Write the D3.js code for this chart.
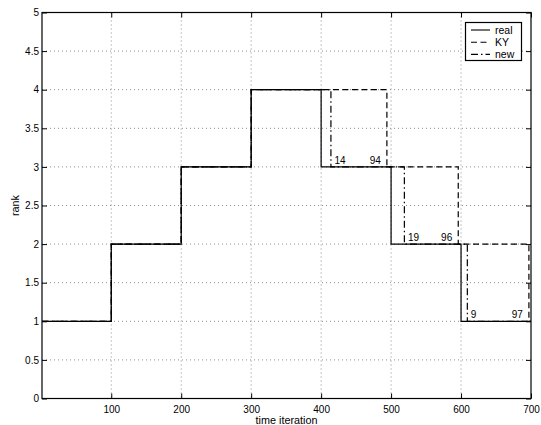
<!DOCTYPE html>
<html lang="en">
  <head>
    <meta charset="UTF-8" />
    <title>rank vs time iteration</title>
    <script src="https://d3js.org/d3.v7.min.js"></script>
    <style>
      body { margin: 0; background: #fff; }
      text { font-family: "Liberation Sans", Arial, sans-serif; fill: #000; }
    </style>
  </head>

  <body>
    <svg width="541" height="425"></svg>

    <script>
      // step change times and rank after each change
      const realTimes = [1, 100, 200, 300, 400, 500, 600, 700];
      const realRanks = [1, 2, 3, 4, 3, 2, 1, 1];
      const kyTimes = [1, 100, 200, 300, 494, 596, 697, 700];
      const kyRanks = [1, 2, 3, 4, 3, 2, 1, 1];
      const newTimes = [1, 100, 200, 300, 414, 519, 609, 700];
      const newRanks = [1, 2, 3, 4, 3, 2, 1, 1];

      // delay labels (drop time, rank level, text)
      const newDelayTimes = [414, 519, 609];
      const newDelayLabels = ["14", "19", "9"];
      const kyDelayTimes = [494, 596, 697];
      const kyDelayLabels = ["94", "96", "97"];
      const delayLevels = [3, 2, 1];

      const xTicks = [100, 200, 300, 400, 500, 600, 700];
      const yTicks = [0, 0.5, 1, 1.5, 2, 2.5, 3, 3.5, 4, 4.5, 5];
      const legendNames = ["real", "KY", "new"];

      const svg = d3.select("svg");
      const mLeft = 42, mRight = 531, mTop = 12.5, mBottom = 398.5;

      const x = d3.scaleLinear().domain([1, 700]).range([mLeft, mRight]);
      const y = d3.scaleLinear().domain([0, 5]).range([mBottom, mTop]);

      // grid
      const grid = svg.append("g").attr("stroke", "#000").attr("stroke-width", 0.8)
        .attr("stroke-dasharray", "1,3").attr("opacity", 0.55);
      grid.selectAll("line.v").data(xTicks.slice(0, -1)).enter().append("line")
        .attr("x1", d => x(d)).attr("x2", d => x(d)).attr("y1", mTop).attr("y2", mBottom);
      grid.selectAll("line.h").data(yTicks.slice(1, -1)).enter().append("line")
        .attr("y1", d => y(d)).attr("y2", d => y(d)).attr("x1", mLeft).attr("x2", mRight);

      // series
      const line = d3.line().x(d => x(d[0])).y(d => y(d[1])).curve(d3.curveStepAfter);
      const series = [
        { times: newTimes, ranks: newRanks, dash: "7,3,1.5,3" },
        { times: kyTimes, ranks: kyRanks, dash: "6,3.5" },
        { times: realTimes, ranks: realRanks, dash: null }
      ];
      series.forEach(s => {
        svg.append("path")
          .attr("d", line(d3.zip(s.times, s.ranks)))
          .attr("fill", "none").attr("stroke", "#000").attr("stroke-width", 1.2)
          .attr("stroke-dasharray", s.dash);
      });

      // delay labels
      svg.append("g").selectAll("text").data(newDelayLabels).enter().append("text")
        .attr("x", (d, i) => x(newDelayTimes[i]) + 3.5)
        .attr("y", (d, i) => y(delayLevels[i]) - 3)
        .attr("font-size", 10).text(d => d);
      svg.append("g").selectAll("text").data(kyDelayLabels).enter().append("text")
        .attr("x", (d, i) => x(kyDelayTimes[i]) - 6)
        .attr("y", (d, i) => y(delayLevels[i]) - 3)
        .attr("text-anchor", "end")
        .attr("font-size", 10).text(d => d);

      // axes box and ticks
      svg.append("rect").attr("x", mLeft).attr("y", mTop)
        .attr("width", mRight - mLeft).attr("height", mBottom - mTop)
        .attr("fill", "none").attr("stroke", "#000").attr("stroke-width", 1.2);

      const xAxis = svg.append("g").attr("transform", `translate(0,${mBottom})`)
        .call(d3.axisBottom(x).tickValues(xTicks).tickSize(-5).tickPadding(7));
      const xAxisTop = svg.append("g").attr("transform", `translate(0,${mTop})`)
        .call(d3.axisTop(x).tickValues(xTicks).tickSize(-5).tickFormat(""));
      const yAxis = svg.append("g").attr("transform", `translate(${mLeft},0)`)
        .call(d3.axisLeft(y).tickValues(yTicks).tickSize(-5).tickPadding(3)
          .tickFormat(d3.format("")));
      const yAxisRight = svg.append("g").attr("transform", `translate(${mRight},0)`)
        .call(d3.axisRight(y).tickValues(yTicks).tickSize(-5).tickFormat(""));
      [xAxis, xAxisTop, yAxis, yAxisRight].forEach(a => {
        a.select(".domain").remove();
        a.selectAll("line").attr("stroke", "#000");
        a.selectAll("text").attr("font-size", 10)
          .attr("font-family", "Liberation Sans, Arial, sans-serif");
      });

      // axis labels
      svg.append("text").attr("x", (mLeft + mRight) / 2).attr("y", 423.5)
        .attr("text-anchor", "middle").attr("font-size", 10.8).text("time iteration");
      svg.append("text").attr("transform", `translate(18.5,${(mTop + mBottom) / 2}) rotate(-90)`)
        .attr("text-anchor", "middle").attr("font-size", 10.8).text("rank");

      // legend
      const lg = svg.append("g");
      lg.append("rect").attr("x", 465.5).attr("y", 22.5).attr("width", 56).attr("height", 38)
        .attr("fill", "#fff").attr("stroke", "#000").attr("stroke-width", 1.2);
      const legendDash = [null, "6,3.5", "7,3,1.5,3"];
      legendNames.forEach((name, i) => {
        const ly = 30 + i * 12.2;
        lg.append("line").attr("x1", 471).attr("x2", 490).attr("y1", ly).attr("y2", ly)
          .attr("stroke", "#000").attr("stroke-width", 1.1)
          .attr("stroke-dasharray", legendDash[i]);
        lg.append("text").attr("x", 495).attr("y", ly + 3.8)
          .attr("font-size", 10.5).text(name);
      });
    </script>
  </body>
</html>
